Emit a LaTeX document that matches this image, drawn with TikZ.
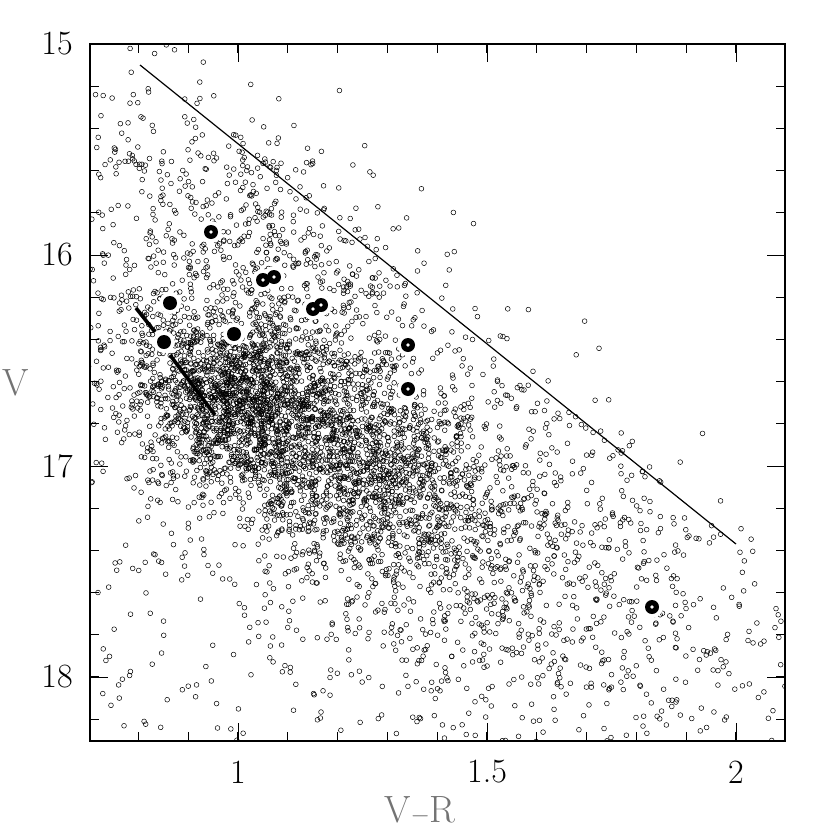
\documentclass[tikz,border=0pt]{standalone}
\begin{document}
\begin{tikzpicture}[x=1pt,y=-1pt,
  pt/.style={draw=black,line width=0.5pt,fill=none},
  lab/.style={font=\fontsize{34}{36}\selectfont},
  axlab/.style={font=\fontsize{38}{40}\selectfont,text=black!55}]
\useasboundingbox (0,0) rectangle (830,830);
\pgfmathsetseed{4242}
\newcommand{\plotpt}[2]{%
  \pgfmathsetmacro\pxx{#1}\pgfmathsetmacro\pyy{#2}%
  \pgfmathsetmacro\dd{max(min(\pyy-65-0.8037*(\pxx-140),0),-300)}%
  \pgfmathtruncatemacro\ok{(\dd>-0.01)||(rnd<exp(\dd/35))}%
  \ifnum\ok=1 \draw[pt] (\pxx,\pyy) circle (2.4);\fi}
\begin{scope}
\clip (90,44) rectangle (785,741);
% core elongated cluster
\foreach \i in {1,...,2000}{%
  \pgfmathsetmacro\a{(rand+rand+rand)}\pgfmathsetmacro\b{(rand+rand+rand)}%
  \plotpt{320+0.87*105*\a-0.49*48*\b}{445+0.49*105*\a+0.87*48*\b}}
% dense blob
\foreach \i in {1,...,800}{%
  \pgfmathsetmacro\a{(rand+rand+rand)}\pgfmathsetmacro\b{(rand+rand+rand)}%
  \plotpt{230+45*\a}{395+40*\b}}
% upper part
\foreach \i in {1,...,600}{%
  \pgfmathsetmacro\a{(rand+rand+rand)}\pgfmathsetmacro\b{(rand+rand+rand)}%
  \plotpt{270+85*\a}{240+95*\b}}
% broad diagonal
\foreach \i in {1,...,1300}{%
  \pgfmathsetmacro\a{(rand+rand+rand)}\pgfmathsetmacro\b{(rand+rand+rand)}%
  \plotpt{430+0.82*175*\a-0.57*85*\b}{500+0.57*175*\a+0.82*85*\b}}
% background
\foreach \i in {1,...,1100}{%
  \plotpt{90+695*rnd}{44+697*rnd}}
\end{scope}
% fiducial line
\coordinate (l1) at (140,65); \coordinate (l2) at (736,544);
\draw[line width=1.2pt] (l1) -- (l2);
\coordinate (s1) at (136,308); \coordinate (s2) at (155,332);
\coordinate (s3) at (170,355); \coordinate (s4) at (215,415);
\draw[line width=3.6pt] (s1)--(s2) (s3)--(s4);
% special stars
\foreach \x/\y/\h in {211/232/1,170/303/0,164/342/0,234/334/0,263/280/1,274/277/1,313/309/1,321/305/1,408/345/1,408/389/1,652/607/1}{
  \fill[white] (\x,\y) circle (11);}
\foreach \x/\y/\h in {211/232/1,170/303/0,164/342/0,234/334/0,263/280/1,274/277/1,313/309/1,321/305/1,408/345/1,408/389/1,652/607/1}{
  \fill[black] (\x,\y) circle (7);
  \ifnum\h=1 \fill[white] (\x,\y) circle (1.8);\fi}
% frame
\draw[line width=1.2pt] (90,44) rectangle (785,741);
% x ticks
\foreach \v in {0.8,0.9,...,2.05}{
  \pgfmathsetmacro\xx{238+(\v-1)*498}
  \draw[line width=1pt] (\xx,741) -- ++(0,-9) (\xx,44) -- ++(0,9);}
\foreach \v in {1,1.5,2}{
  \pgfmathsetmacro\xx{238+(\v-1)*498}
  \draw[line width=1pt] (\xx,741) -- ++(0,-18) (\xx,44) -- ++(0,18);}
\node[lab] (x1) at (238,772) {1};
\node[lab] (x2) at (487,772) {1.5};
\node[lab] (x3) at (736,772) {2};
% y ticks
\foreach \v in {15.2,15.4,...,18.25}{
  \pgfmathsetmacro\yy{44+(\v-15)*211}
  \draw[line width=1pt] (90,\yy) -- ++(9,0) (785,\yy) -- ++(-9,0);}
\foreach \v in {15,16,17,18}{
  \pgfmathsetmacro\yy{44+(\v-15)*211}
  \draw[line width=1pt] (90,\yy) -- ++(18,0) (785,\yy) -- ++(-18,0);}
\node[lab] (y1) at (57,44) {15};
\node[lab] (y2) at (57,255) {16};
\node[lab] (y3) at (57,466) {17};
\node[lab] (y4) at (57,677) {18};
\node[axlab] (xl) at (420,811) {V$-$R};
\node[axlab] (yl) at (16,383) {V};
\end{tikzpicture}
\end{document}
